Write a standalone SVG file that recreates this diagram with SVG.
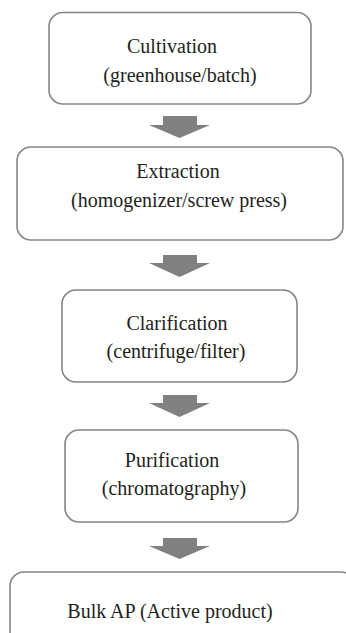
<svg xmlns="http://www.w3.org/2000/svg" width="346" height="633" viewBox="0 0 346 633">
<style>
.box{fill:#fff;stroke:#858585;stroke-width:1.6}
.t{font-family:"Liberation Serif","Times New Roman",serif;font-size:20px;fill:#231f20;text-anchor:middle}
.arr{fill:#808080}
</style>
<rect width="346" height="633" fill="#fff"/>
<g id="n1"><rect class="box" x="49" y="12.5" width="262" height="91.5" rx="14"/>
<text class="t" x="172" y="53">Cultivation</text><text class="t" x="180" y="82">(greenhouse/batch)</text></g>
<g id="n2"><rect class="box" x="17" y="147" width="326" height="93" rx="14"/>
<text class="t" x="178" y="178">Extraction</text><text class="t" x="179" y="207">(homogenizer/screw press)</text></g>
<g id="n3"><rect class="box" x="62" y="290" width="235" height="92" rx="14"/>
<text class="t" x="177" y="330">Clarification</text><text class="t" x="176" y="358">(centrifuge/filter)</text></g>
<g id="n4"><rect class="box" x="65" y="430" width="233" height="92" rx="14"/>
<text class="t" x="172" y="467">Purification</text><text class="t" x="174" y="495">(chromatography)</text></g>
<g id="n5"><rect class="box" x="10" y="572" width="345" height="80" rx="14"/>
<text class="t" x="170" y="618">Bulk AP (Active product)</text></g>
<g id="connectors">
<path class="arr" d="M163 116H197V125H210L179.5 138L149 125H163Z"/>
<path class="arr" d="M163 255H197V263H210L179.5 277L149 263H163Z"/>
<path class="arr" d="M163 395H197V403H210L179.5 417L149 403H163Z"/>
<path class="arr" d="M163 538H197V546H210L179.5 559L149 546H163Z"/>
</g>
</svg>
